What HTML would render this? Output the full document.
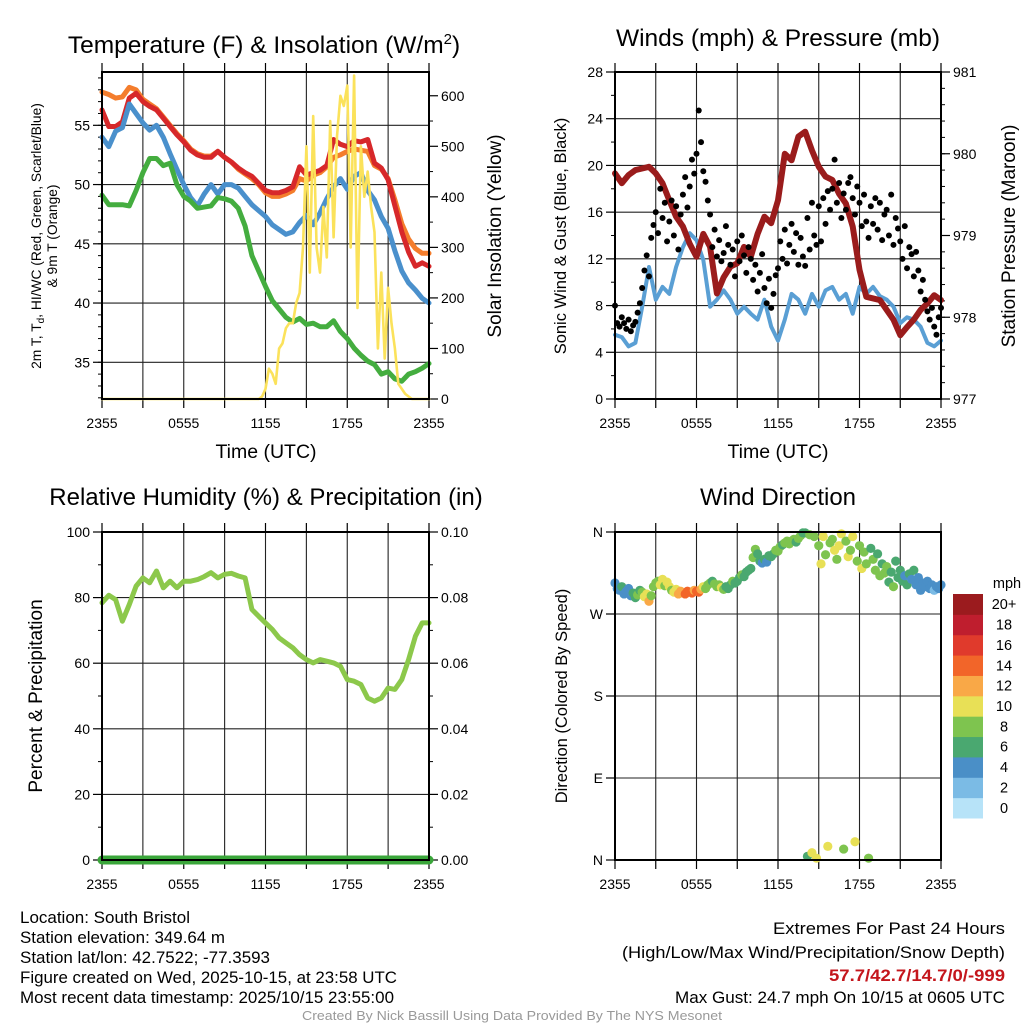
<!DOCTYPE html>
<html><head><meta charset="utf-8">
<style>
html,body{margin:0;padding:0;background:#fff;}
svg{display:block;font-family:"Liberation Sans",sans-serif;}
</style></head>
<body>
<svg id="chart" width="1024" height="1024" viewBox="0 0 1024 1024" xmlns="http://www.w3.org/2000/svg">
<rect width="1024" height="1024" fill="#fff"/>
<text x="264" y="53" font-size="24.5" text-anchor="middle">Temperature (F) &amp; Insolation (W/m<tspan font-size="15" dy="-9">2</tspan><tspan dy="9">)</tspan></text>
<text x="778" y="46" font-size="24.5" text-anchor="middle">Winds (mph) &amp; Pressure (mb)</text>
<text x="266" y="505" font-size="24" text-anchor="middle">Relative Humidity (%) &amp; Precipitation (in)</text>
<text x="778" y="505" font-size="24" text-anchor="middle">Wind Direction</text>

<text transform="translate(41,236) rotate(-90)" font-size="13.8" text-anchor="middle">2m T, T<tspan font-size="10" dy="3">d</tspan><tspan dy="-3">, HI/WC (Red, Green, Scarlet/Blue)</tspan></text>
<text transform="translate(57,236) rotate(-90)" font-size="13.8" text-anchor="middle">&amp; 9m T (Orange)</text>
<text transform="translate(501,236) rotate(-90)" font-size="19" text-anchor="middle">Solar Insolation (Yellow)</text>
<text transform="translate(566,236) rotate(-90)" font-size="16.5" text-anchor="middle">Sonic Wind &amp; Gust (Blue, Black)</text>
<text transform="translate(1015,236) rotate(-90)" font-size="19" text-anchor="middle">Station Pressure (Maroon)</text>
<text transform="translate(42,696) rotate(-90)" font-size="19" text-anchor="middle">Percent &amp; Precipitation</text>
<text transform="translate(567,696) rotate(-90)" font-size="16.5" text-anchor="middle">Direction (Colored By Speed)</text>
<text x="266" y="458" font-size="19.5" text-anchor="middle">Time (UTC)</text>
<text x="778" y="458" font-size="19.5" text-anchor="middle">Time (UTC)</text>

<g id="layer"></g>

<g font-size="17">
<text x="20" y="923" textLength="170" lengthAdjust="spacingAndGlyphs">Location: South Bristol</text>
<text x="20" y="943" textLength="205" lengthAdjust="spacingAndGlyphs">Station elevation: 349.64 m</text>
<text x="20" y="963" textLength="250" lengthAdjust="spacingAndGlyphs">Station lat/lon: 42.7522; -77.3593</text>
<text x="20" y="983" textLength="377" lengthAdjust="spacingAndGlyphs">Figure created on Wed, 2025-10-15, at 23:58 UTC</text>
<text x="20" y="1003" textLength="374" lengthAdjust="spacingAndGlyphs">Most recent data timestamp: 2025/10/15 23:55:00</text>
</g>
<g font-size="17" text-anchor="end">
<text x="1005" y="934" textLength="232" lengthAdjust="spacingAndGlyphs">Extremes For Past 24 Hours</text>
<text x="1005" y="958" textLength="383" lengthAdjust="spacingAndGlyphs">(High/Low/Max Wind/Precipitation/Snow Depth)</text>
<text x="1005" y="981" fill="#c4161c" font-weight="bold" textLength="176" lengthAdjust="spacingAndGlyphs">57.7/42.7/14.7/0/-999</text>
<text x="1005" y="1003" textLength="330" lengthAdjust="spacingAndGlyphs">Max Gust: 24.7 mph On 10/15 at 0605 UTC</text>
</g>
<text x="512" y="1020" font-size="13" fill="#999" text-anchor="middle" textLength="420" lengthAdjust="spacingAndGlyphs">Created By Nick Bassill Using Data Provided By The NYS Mesonet</text>
</svg>
<script>
// ---------- data ----------
const timeLabels = ["2355","0555","1155","1755","2355"];
const tempTicks = [35,40,45,50,55];
const insolTicks = [0,100,200,300,400,500,600];
const windTicks = [0,4,8,12,16,20,24,28];
const presTicks = [977,978,979,980,981];
const rhTicks = [0,20,40,60,80,100];
const precipTicks = ["0.00","0.02","0.04","0.06","0.08","0.10"];
const dirTicks = ["N","E","S","W","N"];
// half-hourly series (49 values, 2355 -> 2355)
const temp2m = [56.3,54.9,54.9,55.3,57.3,57.7,57.0,56.6,56.3,55.6,54.9,54.2,53.6,52.9,52.5,52.3,52.3,52.8,52.3,51.9,51.4,51.0,50.7,50.1,49.5,49.3,49.3,49.5,49.8,51.5,50.8,51.0,51.2,51.6,53.8,53.4,53.2,53.7,53.6,53.8,51.8,51.4,50.4,48.2,46.0,44.3,43.1,43.4,43.1];
const temp9m = [57.8,57.6,57.3,57.4,58.2,58.0,57.2,56.8,56.4,55.7,55.0,54.3,53.7,53.0,52.6,52.4,52.4,52.8,52.3,51.9,51.3,50.9,50.5,50.0,49.3,49.0,49.0,49.2,49.5,50.5,50.3,50.8,51.0,51.5,52.3,52.5,52.8,53.0,52.9,52.8,51.6,51.3,50.5,48.7,46.7,45.4,44.6,44.2,44.2];
const feelsLike = [54.0,53.2,54.5,54.8,56.8,56.0,55.2,54.6,55.0,54.0,52.6,51.3,50.0,48.9,48.2,49.2,50.0,49.2,50.0,50.0,49.7,49.0,48.3,47.8,47.3,46.6,46.2,45.8,46.0,46.8,47.4,46.6,47.6,48.8,49.8,50.5,49.6,50.7,51.0,49.5,48.7,47.3,46.3,44.4,42.7,41.7,41.1,40.4,40.0];
const dewpoint = [49.1,48.3,48.3,48.3,48.2,49.5,51.0,52.2,52.2,51.6,51.8,50.0,49.0,48.6,48.0,48.1,48.2,48.9,48.8,48.6,48.0,46.5,44.0,42.7,41.4,40.2,39.5,38.8,38.4,38.7,38.2,38.3,38.0,38.0,38.5,37.6,37.0,36.2,35.6,35.1,34.8,34.0,34.2,33.6,33.4,34.0,34.2,34.5,34.9];
// quarter-hourly insolation (97 values)
const insolation = [0,0,0,0,0,0,0,0,0,0,0,0,0,0,0,0,0,0,0,0,0,0,0,0,0,0,0,0,0,0,0,0,0,0,0,0,0,0,0,0,0,0,0,0,0,0,0,5,20,60,50,30,100,110,140,150,150,190,210,300,500,250,560,300,250,380,280,550,320,520,600,580,620,300,640,180,500,400,450,380,330,100,250,80,220,150,100,30,20,10,5,0,0,0,0,0,0];
const sonicWind = [5.5,5.3,4.5,4.8,7.9,11.3,8.5,9.6,9.0,11.3,13.0,14.2,13.6,11.9,7.9,8.5,9.3,8.5,7.3,7.9,7.3,6.8,8.5,6.2,5.0,6.8,9.0,8.5,7.3,9.0,7.9,9.3,9.6,8.5,9.0,7.3,9.6,9.0,9.6,8.8,8.5,7.9,6.5,7.0,6.8,6.2,4.8,4.5,5.0];
const pressure = [979.76,979.64,979.74,979.80,979.82,979.84,979.76,979.64,979.43,979.23,979.11,978.90,978.74,979.02,978.86,978.29,978.49,978.62,978.66,978.86,978.74,979.02,979.23,979.15,979.43,980.00,979.92,980.21,980.27,980.04,979.84,979.72,979.68,979.51,979.39,979.11,978.58,978.25,978.23,978.21,978.09,977.97,977.78,977.88,977.97,978.09,978.17,978.27,978.21];
const relHum = [78.4,80.7,79.4,72.8,77.9,83.5,86.0,84.5,88.1,83.0,85.0,83.0,85.0,85.0,85.5,86.4,87.6,86.0,87.1,87.4,86.6,86.0,76.4,74.3,72.3,70.3,67.7,66.2,64.7,62.6,61.1,60.1,61.1,60.6,60.1,59.1,55.0,54.5,53.5,49.4,48.4,49.4,52.4,52.0,55.0,61.1,68.2,72.3,72.3];
const precip = [0,0,0,0,0,0,0,0,0,0,0,0,0,0,0,0,0,0,0,0,0,0,0,0,0,0,0,0,0,0,0,0,0,0,0,0,0,0,0,0,0,0,0,0,0,0,0,0,0];
// 10-minute series (145 values)
const gusts = [8,6.5,6.2,7.0,6.5,6.0, 6.8,5.8,6.3,6.6,7.4,8.2, 9.5,11.0,12.3,10.5,13.8,14.9, 16.0,14.2,18.0,15.5,16.8,13.5, 15.2,17.0,14.0,16.5,12.8,15.8, 17.5,19.0,16.4,18.2,20.5,19.3, 21.0,24.7,22.0,19.5,18.6,17.0, 15.8,13.0,14.5,12.2,13.6,11.8, 12.5,14.8,13.2,11.5,12.8,10.5, 13.5,11.8,14.0,12.3,10.8,13.0, 12.0,10.2,11.5,9.2,10.8,12.4, 9.5,8.2,10.3,7.8,9.0,10.6, 11.2,13.5,12.0,14.5,11.6,13.2, 15.0,12.6,14.2,11.5,13.8,12.2, 11.4,15.5,12.8,16.8,14.0,13.2, 16.5,13.5,17.2,15.0,17.8,16.2, 18.0,20.5,16.8,18.5,15.5,17.6, 16.2,18.5,19.0,17.2,15.8,18.2, 16.8,14.8,17.5,15.2,13.8,16.5, 15.0,17.2,14.5,16.8,13.6,15.8, 16.2,14.0,17.5,13.2,15.5,14.6, 13.5,12.0,14.8,11.2,13.0,12.4, 10.5,12.6,11.0,9.2,10.2,8.5, 7.5,6.8,7.8,6.2,5.5,7.0, 7.8];
const windDir = [304,298,296,300,292,295, 298,290,293,288,291,296, 294,289,292,284,290,300, 304,306,302,308,301,305, 300,296,294,297,292,295, 293,292,295,294,293,296, 295,294,297,300,298,302, 304,306,303,300,302,299, 297,300,298,302,306,304, 306,310,313,311,316,318, 320,332,341,336,328,326, 330,327,334,333,336,340, 339,344,346,348,350,347, 350,352,349,353,356,359, 359,4,357,8,355,2, 345,325,355,335,15,348, 352,340,330,345,358,12, 350,333,340,355,20,328, 345,320,338,325,2,342, 330,318,336,312,325,315, 322,305,316,300,328,310, 318,306,312,302,314,308, 318,302,310,296,304,300, 306,298,302,296,300,298, 302];
const dirSpeed = [5,4,5,6,4,5, 4,5,6,7,8,6, 9,10,11,12,9,8, 8,9,10,11,9,10, 10,9,11,10,12,12, 13,14,14,15,14,13, 14,15,12,11,9,8, 8,7,9,8,9,10, 8,7,6,7,8,7, 6,7,8,6,7,6, 6,8,9,7,6,5, 6,5,6,7,6,8, 9,8,7,8,9,8, 8,9,7,8,9,6, 7,6,8,10,9,10, 8,10,11,9,10,8, 9,10,8,11,10,9, 8,10,9,11,10,8, 9,10,8,9,8,7, 8,9,7,8,7,9, 8,7,6,8,7,6, 7,6,5,6,7,5, 6,5,4,5,4,4, 4,5,4,3,4,5, 4];
const cbLabels = ["0","2","4","6","8","10","12","14","16","18","20+"];
const cbColors = ["#b7e3f8","#7bbbe5","#4a8fc7","#4aa870","#7ec44f","#e8e056","#f9a847","#f26529","#e03a2c","#bf1e2e","#9b1b1e"];

// ---------- drawing ----------
const NS="http://www.w3.org/2000/svg";
const layer=document.getElementById('layer');
function mk(tag,attrs,parent){const e=document.createElementNS(NS,tag);for(const k in attrs)e.setAttribute(k,attrs[k]);(parent||layer).appendChild(e);return e;}
function lin(d0,d1,r0,r1){return v=>r0+(v-d0)/(d1-d0)*(r1-r0);}

function panel(name,x0,y0,x1,y1,yScale,yTickVals,yLabels,yMinor,rScale,rTickVals,rLabels,rMinor){
  const g=mk('g',{});
  
  
  const xs=lin(0,24,x0,x1);
  for(let h=3;h<24;h+=3){const l=mk('line',{x1:xs(h),x2:xs(h),y1:y0,y2:y1,stroke:'#222','stroke-width':1.1},g);}
  yTickVals.forEach((v,i)=>{const y=yScale(v);
    if(y>y0+1&&y<y1-1){const l=mk('line',{x1:x0,x2:x1,y1:y,y2:y,stroke:'#222','stroke-width':1.1},g);}
    mk('line',{x1:x0-9,x2:x0,y1:y,y2:y,stroke:'#000','stroke-width':1.2},g);
    const t=mk('text',{x:x0-12,y:y+5,'font-size':14,'text-anchor':'end'},g);t.textContent=yLabels[i];
    
  });
  if(yMinor) yMinor.forEach(v=>{const y=yScale(v);mk('line',{x1:x0-4,x2:x0,y1:y,y2:y,stroke:'#000','stroke-width':1},g);});
  if(rScale){rTickVals.forEach((v,i)=>{const y=rScale(v);
    mk('line',{x1:x1,x2:x1+9,y1:y,y2:y,stroke:'#000','stroke-width':1.2},g);
    const t=mk('text',{x:x1+12,y:y+5,'font-size':14},g);t.textContent=rLabels[i];
    });
    if(rMinor) rMinor.forEach(v=>{const y=rScale(v);mk('line',{x1:x1,x2:x1+4,y1:y,y2:y,stroke:'#000','stroke-width':1},g);});
  }
  for(let h=0;h<=24;h+=3){mk('line',{x1:xs(h),x2:xs(h),y1:y1,y2:y1+9,stroke:'#000','stroke-width':1.2},g);mk('line',{x1:xs(h),x2:xs(h),y1:y0-9,y2:y0,stroke:'#000','stroke-width':1.2},g);}
  timeLabels.forEach((s,i)=>{const t=mk('text',{x:xs(i*6),y:y1+29,'font-size':14,'text-anchor':'middle'},g);t.textContent=s;
    });
  const body=mk('g',{},g);
  
  
  const border=()=>{const r=mk('rect',{x:x0,y:y0,width:x1-x0,height:y1-y0,fill:'none',stroke:'#000','stroke-width':2},g);};
  return {xs,body,border};
}
function series(p,arr,step,scale,color,w,name){
  const d=arr.map((v,i)=>(i?'L':'M')+p.xs(i*step).toFixed(1)+','+scale(v).toFixed(1)).join('');
  const e=mk('path',{d:d,fill:'none',stroke:color,'stroke-width':w,'stroke-linejoin':'round','stroke-linecap':'round'},p.body);
  
  
  return e;
}
function range(a,b,s){const r=[];for(let v=a;v<=b+1e-9;v+=s)r.push(v);return r;}

// Panel 1
const tS=lin(31.9,59.5,399,72), iS=lin(0,647,399,72);
const p1=panel('temperature',102,72,429,399,tS,tempTicks,tempTicks.map(String),range(32,59,1),iS,insolTicks,insolTicks.map(String),range(50,640,50).filter(v=>v%100));
series(p1,temp9m,0.5,tS,'#f47d2c',5,'temp-9m-line');
series(p1,temp2m,0.5,tS,'#d7282a',5,'temp-2m-line');
series(p1,feelsLike,0.5,tS,'#4a90cc',5,'feels-like-line');
series(p1,dewpoint,0.5,tS,'#44ad3f',5,'dewpoint-line');
series(p1,insolation,0.25,iS,'#fbe25b',2.6,'insolation-line');
p1.border();

// Panel 2
const wS=lin(0,28,399,72), pS=lin(977,981,399,72);
const p2=panel('wind',615,72,941,399,wS,windTicks,windTicks.map(String),range(2,26,4),pS,presTicks,presTicks.map(String),range(977.2,980.8,0.2));
series(p2,sonicWind,0.5,wS,'#5a9fd4',4,'sonic-wind-line');
series(p2,pressure,0.5,pS,'#9a1c1c',6,'pressure-line');
gusts.forEach((v,i)=>{const c=mk('circle',{cx:p2.xs(i/6),cy:wS(v),r:3,fill:'#000'},p2.body);
  
  });
p2.border();

// Panel 3
const rS=lin(0,100,860,532), prS=lin(0,0.1,860,532);
const p3=panel('humidity',102,532,429,860,rS,rhTicks,rhTicks.map(String),range(10,90,20),prS,[0,0.02,0.04,0.06,0.08,0.1],precipTicks,range(0.01,0.09,0.02));
series(p3,relHum,0.5,rS,'#8cc84b',5,'rh-line');
series(p3,precip,0.5,prS,'#3aa63a',9,'precip-line');
p3.border();

// Panel 4
const dS=lin(0,360,860,532);
const p4=panel('direction',615,532,941,860,dS,[0,90,180,270,360],dirTicks,null,null);
windDir.forEach((v,i)=>{const k=Math.min(10,Math.floor(dirSpeed[i]/2));
  const c=mk('circle',{cx:p4.xs(i/6),cy:dS(v),r:4.6,fill:cbColors[k]},p4.body);
  
  });
p4.border();

// Colorbar
const cb=mk('g',{});


const cbS=lin(0,11,818,594);
cbColors.forEach((c,i)=>{const r=mk('rect',{x:953,y:cbS(i+1),width:30,height:cbS(i)-cbS(i+1)+0.5,fill:c},cb);
  
  
  const t=mk('text',{x:1004,y:(cbS(i)+cbS(i+1))/2+5,'font-size':14.5,'text-anchor':'middle'},cb);t.textContent=cbLabels[i];
  
  });
const mph=mk('text',{x:1007,y:588,'font-size':14.5,'text-anchor':'middle'},cb);mph.textContent='mph';


</script>
</body></html>
